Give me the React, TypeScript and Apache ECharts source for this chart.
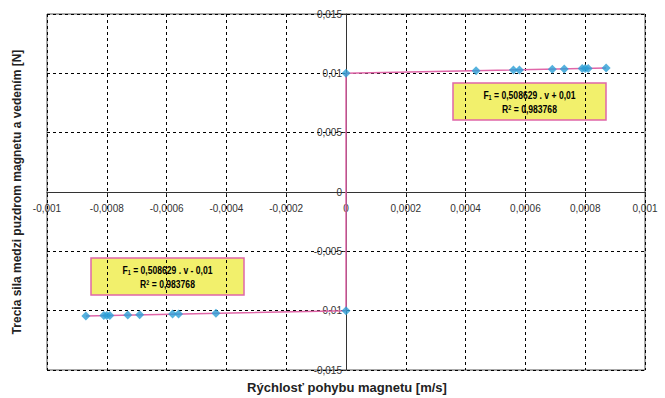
import React, { useEffect, useRef } from "react";
import * as echarts from "echarts";

const xTickLabels = ["-0,001", "-0,0008", "-0,0006", "-0,0004", "-0,0002", "0", "0,0002", "0,0004", "0,0006", "0,0008", "0,001"];
const yTickLabels = ["-0,015", "-0,01", "-0,005", "0", "0,005", "0,01", "0,015"];

const posV = [0, 0.000435, 0.00056, 0.00058, 0.00069, 0.00073, 0.00079, 0.0008, 0.00081, 0.00087];
const posF = [0.01, 0.01022, 0.01028, 0.01029, 0.01035, 0.01037, 0.0104, 0.0104, 0.01041, 0.01044];
const negV = [0, -0.000435, -0.00056, -0.00058, -0.00069, -0.00073, -0.00079, -0.0008, -0.00081, -0.00087];
const negF = [-0.01, -0.01022, -0.01028, -0.01029, -0.01035, -0.01037, -0.0104, -0.0104, -0.01041, -0.01044];

const lineV = [-0.00087, 0, 0, 0.00087];
const lineF = [-0.01044, -0.01, 0.01, 0.01044];

const eqPos = ["F", "1", " = 0,508629 . v + 0,01"];
const eqNeg = ["F", "1", " = 0,508629 . v - 0,01"];
const r2 = ["R", "2", " = 0,983768"];

const xTitle = "Rýchlosť pohybu magnetu [m/s]";
const yTitle = "Trecia sila medzi puzdrom magnetu a vedením [N]";

const FONT = "'Liberation Sans', Arial, sans-serif";
const PINK = "#e066a8";
const BLUE = "#2a9fd6";

const GRID = { left: 47, right: 20, top: 14, bottom: 28 };
const W = 665, H = 398;

function eqBox(x: number, y: number, eq: string[]) {
  const rich = {
    b: { fontSize: 11, fontWeight: "bold", fontFamily: FONT, color: "#222" },
    sub: { fontSize: 7, fontWeight: "bold", fontFamily: FONT, color: "#222", verticalAlign: "bottom", padding: [4, 0, 0, 0] },
    sup: { fontSize: 7, fontWeight: "bold", fontFamily: FONT, color: "#222", verticalAlign: "top", padding: [0, 0, 4, 0] },
  };
  return {
    type: "group",
    x,
    y,
    children: [
      { type: "rect", shape: { x: 0, y: 0, width: 153, height: 37 }, style: { fill: "#f2f06c", stroke: PINK, lineWidth: 1.5 } },
      {
        type: "text",
        x: 76.5,
        y: 12,
        scaleX: 0.78,
        style: { text: `{b|${eq[0]}}{sub|${eq[1]}}{b|${eq[2]}}`, rich, align: "center", verticalAlign: "middle" },
      },
      {
        type: "text",
        x: 76.5,
        y: 26,
        scaleX: 0.78,
        style: { text: `{b|${r2[0]}}{sup|${r2[1]}}{b|${r2[2]}}`, rich, align: "center", verticalAlign: "middle" },
      },
    ],
  };
}

export default function App() {
  const ref = useRef<HTMLDivElement>(null);
  useEffect(() => {
    if (!ref.current) return;
    const chart = echarts.init(ref.current, null, { renderer: "svg" });
    const xMin = -0.001, xMax = 0.001, xInt = 0.0002;
    const yMin = -0.015, yMax = 0.015, yInt = 0.005;
    const plotW = W - GRID.left - GRID.right;
    const plotH = H - GRID.top - GRID.bottom;
    const xOffset = -plotH * (0 - yMin) / (yMax - yMin);
    const yOffset = -plotW * (0 - xMin) / (xMax - xMin);
    chart.setOption({
      animation: false,
      backgroundColor: "#fff",
      grid: { ...GRID, show: true, borderColor: "#555", borderWidth: 1 },
      xAxis: {
        type: "value",
        position: "bottom",
        offset: xOffset,
        min: xMin,
        max: xMax,
        interval: xInt,
        axisLine: { onZero: false, lineStyle: { color: "#333", width: 1 } },
        axisTick: { show: true, inside: false, length: 3, lineStyle: { color: "#333" } },
        axisLabel: {
          margin: 11,
          fontSize: 10,
          fontFamily: FONT,
          color: "#333",
          formatter: (v: number) => xTickLabels[Math.round((v - xMin) / xInt)] ?? "",
        },
        splitLine: { show: true, lineStyle: { color: "#000", type: [3, 3], width: 1 } },
      },
      yAxis: {
        type: "value",
        position: "left",
        offset: yOffset,
        min: yMin,
        max: yMax,
        interval: yInt,
        axisLine: { onZero: false, lineStyle: { color: "#333", width: 1 } },
        axisTick: { show: true, length: 3, lineStyle: { color: "#333" } },
        axisLabel: {
          margin: 4,
          fontSize: 10,
          fontFamily: FONT,
          color: "#333",
          formatter: (v: number) => yTickLabels[Math.round((v - yMin) / yInt)] ?? "",
        },
        splitLine: { show: true, lineStyle: { color: "#000", type: [3, 3], width: 1 } },
      },
      series: [
        {
          type: "line",
          data: lineV.map((v, i) => [v, lineF[i]]),
          showSymbol: false,
          lineStyle: { color: PINK, width: 1.5 },
          z: 3,
        },
        {
          type: "scatter",
          data: posV.map((v, i) => [v, posF[i]]),
          symbol: "diamond",
          symbolSize: 9,
          itemStyle: { color: BLUE },
          z: 4,
        },
        {
          type: "scatter",
          data: negV.map((v, i) => [v, negF[i]]),
          symbol: "diamond",
          symbolSize: 9,
          itemStyle: { color: BLUE },
          z: 4,
        },
      ],
      graphic: [
        eqBox(453, 83, eqPos),
        eqBox(91, 258, eqNeg),
        {
          type: "text",
          x: 347,
          y: 387,
          style: { text: xTitle, fontSize: 13, fontWeight: "bold", fontFamily: FONT, fill: "#222", align: "center", verticalAlign: "middle" },
        },
        {
          type: "text",
          x: 17,
          y: 192,
          rotation: Math.PI / 2,
          style: { text: yTitle, fontSize: 12, fontWeight: "bold", fontFamily: FONT, fill: "#222", align: "center", verticalAlign: "middle" },
        },
      ],
    });
    return () => chart.dispose();
  }, []);
  return <div ref={ref} style={{ width: W, height: H, position: "absolute", left: 0, top: 0 }} />;
}
